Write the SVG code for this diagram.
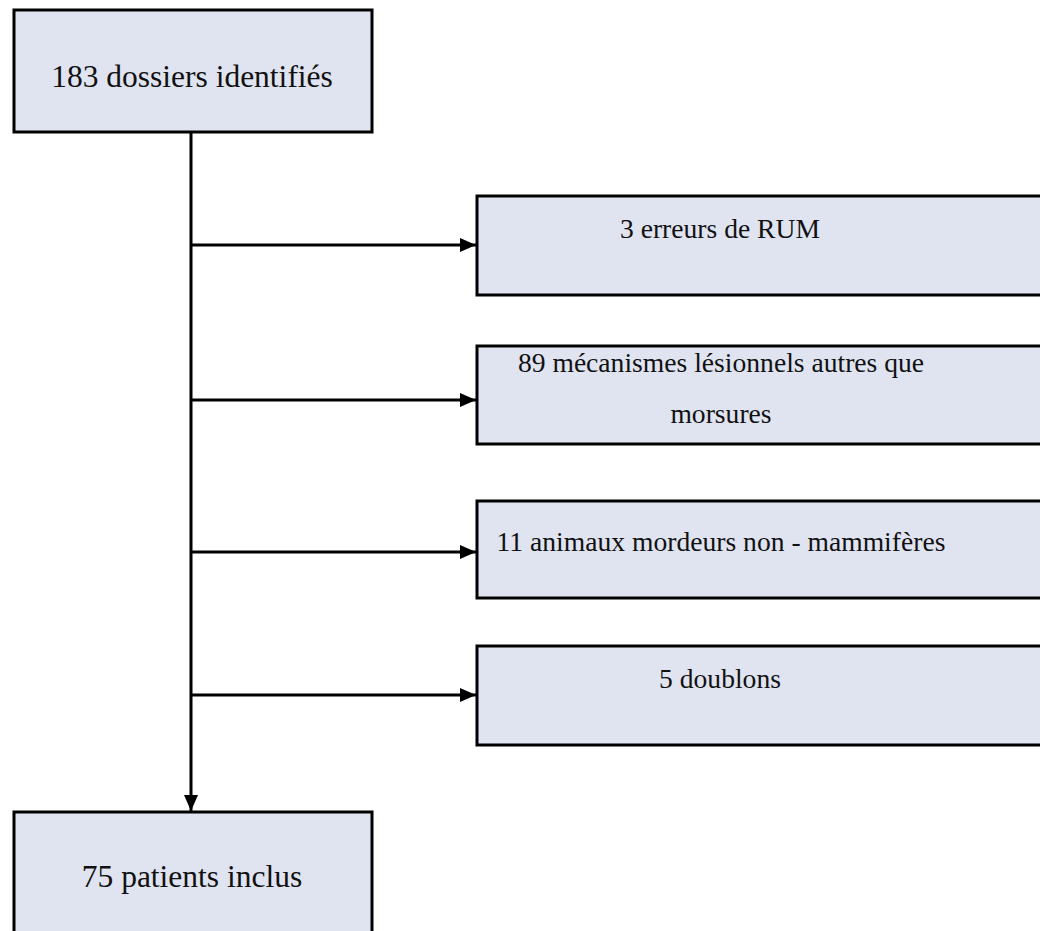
<svg xmlns="http://www.w3.org/2000/svg" width="1040" height="931" viewBox="0 0 1040 931">
<style>
.box{fill:#e0e4f1;stroke:#000;stroke-width:3}
.tl{font-family:"Liberation Serif",serif;font-size:31.5px;fill:#111;text-anchor:middle}
.tr{font-family:"Liberation Serif",serif;font-size:27.6px;fill:#111;text-anchor:middle}
.ln{stroke:#000;stroke-width:3;fill:none}
</style>
<defs>
<marker id="ah" viewBox="0 0 16 14" refX="16" refY="7" markerWidth="16" markerHeight="14" markerUnits="userSpaceOnUse" orient="auto">
<path d="M0,0 L16,7 L0,14 Z" fill="#000"/>
</marker>
</defs>
<rect width="1040" height="931" fill="#fff"/>
<g id="connectors">
<line class="ln" x1="191" y1="132" x2="191" y2="811" marker-end="url(#ah)"/>
<line class="ln" x1="191" y1="245" x2="476" y2="245" marker-end="url(#ah)"/>
<line class="ln" x1="191" y1="400" x2="476" y2="400" marker-end="url(#ah)"/>
<line class="ln" x1="191" y1="552" x2="476" y2="552" marker-end="url(#ah)"/>
<line class="ln" x1="191" y1="695" x2="476" y2="695" marker-end="url(#ah)"/>
</g>
<g id="n_identified">
<rect class="box" x="14" y="10" width="358" height="122"/>
<text class="tl" x="192" y="87">183 dossiers identifiés</text>
</g>
<g id="n_rum">
<rect class="box" x="477" y="196" width="580" height="99"/>
<text class="tr" x="720" y="238">3 erreurs de RUM</text>
</g>
<g id="n_mecanismes">
<rect class="box" x="477" y="346" width="580" height="98"/>
<text class="tr" x="721" y="372">89 mécanismes lésionnels autres que</text>
<text class="tr" x="721" y="423">morsures</text>
</g>
<g id="n_animaux">
<rect class="box" x="477" y="501" width="580" height="97"/>
<text class="tr" x="721" y="551">11 animaux mordeurs non - mammifères</text>
</g>
<g id="n_doublons">
<rect class="box" x="477" y="646" width="580" height="99"/>
<text class="tr" x="720" y="688">5 doublons</text>
</g>
<g id="n_inclus">
<rect class="box" x="14" y="812" width="358" height="140"/>
<text class="tl" x="192" y="887">75 patients inclus</text>
</g>
</svg>
